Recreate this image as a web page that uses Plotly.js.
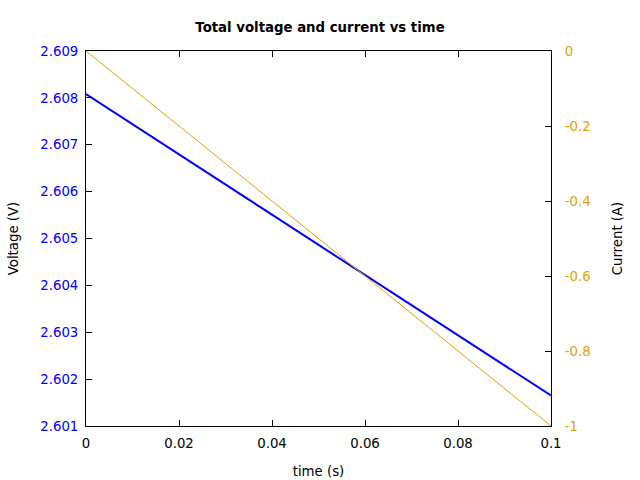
<!DOCTYPE html>
<html><head><meta charset="utf-8">
<script src="https://cdn.plot.ly/plotly-3.0.1.min.js"></script>
<style>body{margin:0}#c{width:640px;height:480px}</style>
</head><body><div id="c"></div>
<script>
const time = [0, 0.1];
const voltage = [2.60808, 2.60165];
const current = [0, -1];
const xTicks = [0, 0.02, 0.04, 0.06, 0.08, 0.1];
const vTicks = [2.601, 2.602, 2.603, 2.604, 2.605, 2.606, 2.607, 2.608, 2.609];
const iTicks = [-1, -0.8, -0.6, -0.4, -0.2, 0];
const iLabels = ['-1', '-0.8', '-0.6', '-0.4', '-0.2', '0'];

const FS = 13.3;
const font = {family: 'DejaVu Sans', size: FS, color: '#000'};
const orange = '#e69f00';
const traces = [
  {x: time, y: current, yaxis: 'y2', mode: 'lines', line: {color: orange, width: 1}, name: 'Current'},
  {x: time, y: voltage, yaxis: 'y', mode: 'lines', line: {color: '#0000ff', width: 2}, name: 'Voltage'}
];
const layout = {
  width: 640, height: 480,
  margin: {l: 86, r: 89, t: 51, b: 54},
  showlegend: false,
  paper_bgcolor: '#fff', plot_bgcolor: '#fff',
  font: font,
  title: {text: '<b>Total voltage and current vs time</b>', font: {family: 'DejaVu Sans', size: FS, color: '#000'}, x: 0.5, xanchor: 'center', y: 0.943, yanchor: 'middle'},
  xaxis: {
    range: [0, 0.1], tickvals: xTicks, ticktext: ['0', '0.02', '0.04', '0.06', '0.08', '0.1'],
    ticks: 'inside', ticklen: 6, tickcolor: '#000', mirror: 'ticks',
    showline: true, linecolor: '#000', linewidth: 1, showgrid: false, zeroline: false,
    ticklabelstandoff: 5,
    title: {text: 'time (s)', font: font, standoff: 16},
    tickfont: font
  },
  yaxis: {
    range: [2.601, 2.609], tickvals: vTicks, ticktext: vTicks.map(v => v.toFixed(3)),
    ticks: 'inside', ticklen: 6, tickcolor: '#000',
    showline: true, linecolor: '#000', linewidth: 1, showgrid: false, zeroline: false,
    ticklabelstandoff: 4,
    tickfont: {family: 'DejaVu Sans', size: FS, color: '#0000ff'},
    title: {text: 'Voltage (V)', font: font, standoff: 18}
  },
  yaxis2: {
    range: [-1, 0], tickvals: iTicks, ticktext: iLabels, overlaying: 'y', side: 'right',
    ticks: 'inside', ticklen: 6, tickcolor: '#000',
    showline: true, linecolor: '#000', linewidth: 1, showgrid: false, zeroline: false,
    ticklabelstandoff: 10,
    tickfont: {family: 'DejaVu Sans', size: FS, color: orange},
    title: {text: 'Current (A)', font: font, standoff: 23}
  }
};
Plotly.newPlot('c', traces, layout, {displayModeBar: false, staticPlot: true});
</script></body></html>
